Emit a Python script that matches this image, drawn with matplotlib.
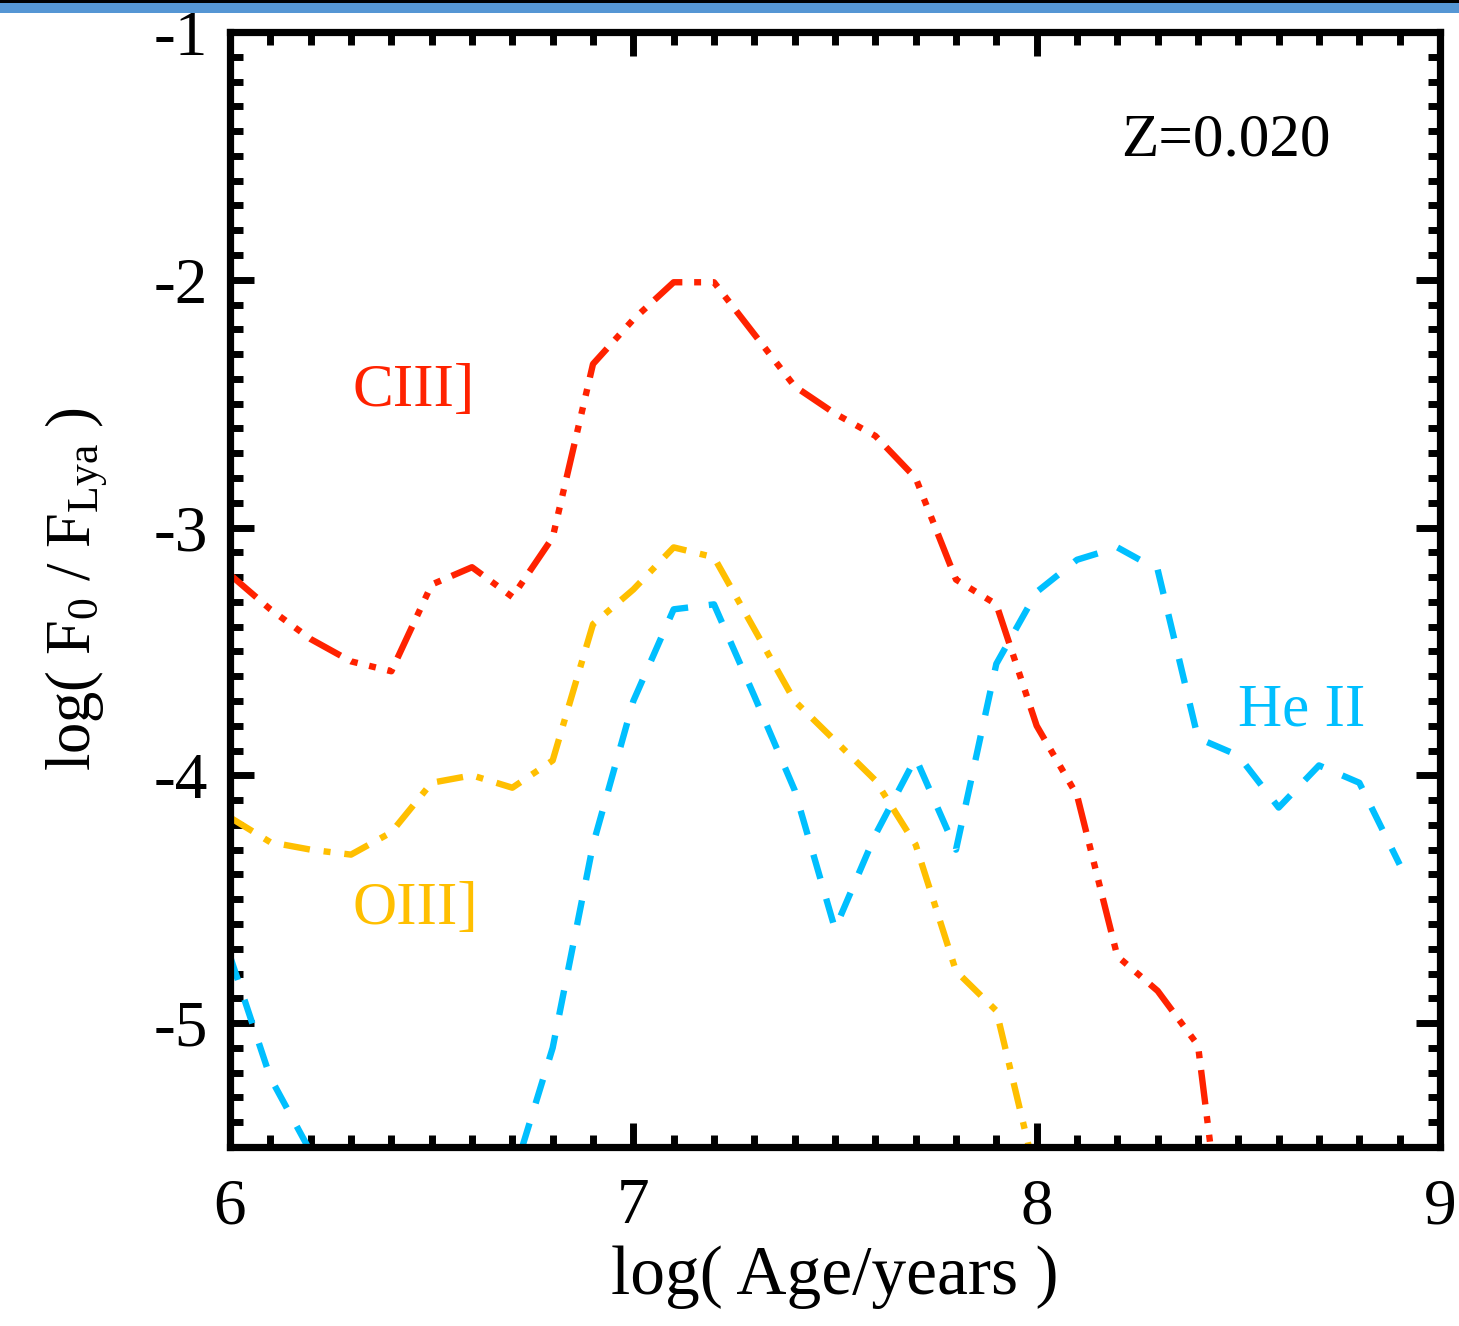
import matplotlib
matplotlib.use("Agg")
import matplotlib.pyplot as plt
from matplotlib.patches import Rectangle
from matplotlib.ticker import MultipleLocator

plt.rcParams['font.family'] = ['Liberation Serif', 'DejaVu Serif']
plt.rcParams['mathtext.fontset'] = 'custom'
plt.rcParams['mathtext.rm'] = 'Liberation Serif'
plt.rcParams['mathtext.it'] = 'Liberation Serif:italic'
plt.rcParams['axes.unicode_minus'] = False
plt.rcParams['lines.scale_dashes'] = False

# log(age / yr) grid of the models
age_ciii = [6.0, 6.1, 6.2, 6.3, 6.4, 6.5, 6.6, 6.7, 6.8, 6.9, 7.0, 7.1, 7.2,
            7.3, 7.4, 7.5, 7.6, 7.7, 7.8, 7.9, 8.0, 8.1, 8.2, 8.3, 8.4, 8.5]
ciii = [-3.19, -3.33, -3.45, -3.54, -3.58, -3.23, -3.16, -3.28, -3.04, -2.34,
        -2.16, -2.01, -2.01, -2.22, -2.43, -2.54, -2.63, -2.80, -3.21, -3.31,
        -3.80, -4.08, -4.73, -4.87, -5.09, -6.40]

age_oiii = [6.0, 6.1, 6.2, 6.3, 6.4, 6.5, 6.6, 6.7, 6.8, 6.9, 7.0, 7.1, 7.2,
            7.3, 7.4, 7.5, 7.6, 7.7, 7.8, 7.9, 8.0]
oiii = [-4.17, -4.27, -4.30, -4.32, -4.23, -4.03, -4.00, -4.05, -3.94, -3.39,
        -3.25, -3.08, -3.12, -3.41, -3.70, -3.86, -4.02, -4.28, -4.79, -4.95,
        -5.63]

age_heii = [6.0, 6.1, 6.2, 6.3, 6.4, 6.5, 6.6, 6.7, 6.8, 6.9, 7.0, 7.1, 7.2,
            7.3, 7.4, 7.5, 7.6, 7.7, 7.8, 7.9, 8.0, 8.1, 8.2, 8.3, 8.4, 8.5,
            8.6, 8.7, 8.8, 8.9]
heii = [-4.73, -5.22, -5.52, -6.20, -6.80, -6.90, -6.60, -5.63, -5.10, -4.28,
        -3.70, -3.33, -3.31, -3.68, -4.06, -4.62, -4.24, -3.93, -4.30, -3.55,
        -3.26, -3.13, -3.08, -3.17, -3.85, -3.92, -4.13, -3.96, -4.03, -4.36]

RED = '#FF2200'
GOLD = '#FFBF00'
CYAN = '#00BFFF'

W, H = 1459, 1326
fig = plt.figure(figsize=(W / 100, H / 100), dpi=100)

# banner strip along the top edge
fig.patches.append(Rectangle((0, 1 - 13 / H), 1, 10 / H, transform=fig.transFigure,
                             facecolor='#5596D4', edgecolor='none', zorder=0))
fig.patches.append(Rectangle((0, 1 - 3 / H), 1, 3 / H, transform=fig.transFigure,
                             facecolor='black', edgecolor='none', zorder=0))

ax = fig.add_axes([230 / W, 1 - 1147 / H, (1440 - 230) / W, (1147 - 32) / H])

lw = 4.6
ax.plot(age_ciii, ciii, color=RED, lw=lw, solid_capstyle='butt', dash_capstyle='butt',
        linestyle=(0, (25, 8.5, 5, 8.5, 5, 8.5, 5, 8.5)))
ax.plot(age_oiii, oiii, color=GOLD, lw=lw, dash_capstyle='butt',
        linestyle=(0, (19, 10, 5, 10)))
ax.plot(age_heii, heii, color=CYAN, lw=lw, dash_capstyle='butt',
        linestyle=(0, (18, 15)))

ax.set_xlim(6, 9)
ax.set_ylim(-5.5, -1)
ax.xaxis.set_major_locator(MultipleLocator(1))
ax.xaxis.set_minor_locator(MultipleLocator(0.1))
ax.yaxis.set_major_locator(MultipleLocator(1))
ax.yaxis.set_minor_locator(MultipleLocator(0.1))
ax.set_xticks([6, 7, 8, 9])
ax.set_xticklabels(['6', '7', '8', '9'])
ax.set_yticks([-5, -4, -3, -2, -1])
ax.set_yticklabels(['-5', '-4', '-3', '-2', '-1'])

for s in ax.spines.values():
    s.set_linewidth(5.2)
ax.tick_params(which='both', direction='in', top=True, right=True, width=5,
               color='black', labelsize=47)
ax.tick_params(which='major', length=17)
ax.tick_params(which='minor', length=9)
ax.tick_params(axis='x', which='major', pad=22)
ax.tick_params(axis='y', which='major', pad=16)

ax.set_xlabel('log( Age/years )', fontsize=50, labelpad=6)
ax.set_ylabel(r'log( F$_\mathrm{0}$ / F$_\mathrm{Lya}$ )', fontsize=45, labelpad=32)

ax.text(6.303, -2.51, 'CIII]', color=RED, fontsize=44, ha='left', va='baseline')
ax.text(6.303, -4.60, 'OIII]', color=GOLD, fontsize=44, ha='left', va='baseline')
ax.text(8.50, -3.80, 'He II', color=CYAN, fontsize=44, ha='left', va='baseline')
ax.text(8.21, -1.50, 'Z=0.020', color='black', fontsize=44, ha='left', va='baseline')

fig.savefig('out.png', dpi=100)
